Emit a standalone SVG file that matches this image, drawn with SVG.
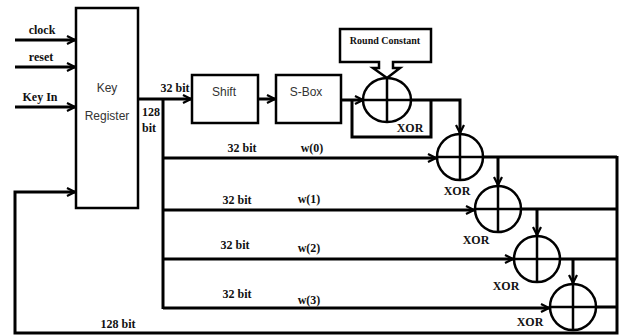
<svg xmlns="http://www.w3.org/2000/svg" width="623" height="335" viewBox="0 0 623 335">
<style>
.ln{fill:none;stroke:#000;stroke-width:3;stroke-linejoin:miter}
.bx{fill:#fff;stroke:#000;stroke-width:2.5}
.xc{fill:#fff;stroke:#000;stroke-width:2.5}
.xl{fill:none;stroke:#000;stroke-width:2.5}
.lb{font-family:"Liberation Serif",serif;font-weight:bold;font-size:12px;fill:#111}
.sm{font-family:"Liberation Serif",serif;font-weight:bold;font-size:10px;fill:#111}
.sn{font-family:"Liberation Sans",sans-serif;font-size:12px;fill:#333}
</style>
<defs>
<marker id="ah" viewBox="0 0 10 10" refX="9" refY="5" markerWidth="10" markerHeight="10" markerUnits="userSpaceOnUse" orient="auto">
<path d="M1,1 L9,5 L1,9" fill="none" stroke="#000" stroke-width="2.2"/>
</marker>
</defs>
<g id="connectors">
<path class="ln" d="M15,40 H75" marker-end="url(#ah)"/>
<path class="ln" d="M15,67 H75" marker-end="url(#ah)"/>
<path class="ln" d="M15,107 H75" marker-end="url(#ah)"/>
<path class="ln" d="M138,99 H191" marker-end="url(#ah)"/>
<path class="ln" d="M258,99 H275" marker-end="url(#ah)"/>
<path class="ln" d="M341,100 H363" marker-end="url(#ah)"/>
<path class="ln" d="M352,100 V137 H431 V100"/>
<path class="ln" d="M410,100 H460 V133" marker-end="url(#ah)"/>
<path class="ln" d="M163,99 V309"/>
<path class="ln" d="M163,158 H436" marker-end="url(#ah)"/>
<path class="ln" d="M163,210 H474" marker-end="url(#ah)"/>
<path class="ln" d="M163,259 H513" marker-end="url(#ah)"/>
<path class="ln" d="M163,308 H549" marker-end="url(#ah)"/>
<path class="ln" d="M483,157 H617"/>
<path class="ln" d="M498,157 V185" marker-end="url(#ah)"/>
<path class="ln" d="M521,209 H617"/>
<path class="ln" d="M537,209 V235" marker-end="url(#ah)"/>
<path class="ln" d="M560,259 H617"/>
<path class="ln" d="M573,259 V283" marker-end="url(#ah)"/>
<path class="ln" d="M596,307 H617"/>
<path class="ln" d="M617,156 V333 H15 V192 H75" marker-end="url(#ah)"/>
</g>
<g id="inputs-labels">
<text class="lb" x="42" y="34" text-anchor="middle">clock</text>
<text class="lb" x="41" y="61" text-anchor="middle">reset</text>
<text class="lb" x="40" y="101" text-anchor="middle">Key In</text>
<text class="lb" x="175" y="92" text-anchor="middle">32 bit</text>
<text class="lb" x="142" y="116">128</text>
<text class="lb" x="142" y="132">bit</text>
<text class="lb" x="242" y="152" text-anchor="middle">32 bit</text>
<text class="lb" x="312" y="152" text-anchor="middle">w(0)</text>
<text class="lb" x="237" y="204" text-anchor="middle">32 bit</text>
<text class="lb" x="309" y="203" text-anchor="middle">w(1)</text>
<text class="lb" x="235" y="249" text-anchor="middle">32 bit</text>
<text class="lb" x="309" y="252" text-anchor="middle">w(2)</text>
<text class="lb" x="237" y="298" text-anchor="middle">32 bit</text>
<text class="lb" x="309" y="304" text-anchor="middle">w(3)</text>
<text class="lb" x="118" y="328" text-anchor="middle">128 bit</text>
</g>
<g id="key-register">
<rect class="bx" x="76" y="8" width="62" height="200"/>
<text class="sn" x="107" y="92" text-anchor="middle">Key</text>
<text class="sn" x="107" y="120" text-anchor="middle" font-size="11.5">Register</text>
</g>
<g id="shift">
<rect class="bx" x="192" y="75" width="66" height="48"/>
<text class="sn" x="224" y="96" text-anchor="middle">Shift</text>
</g>
<g id="sbox">
<rect class="bx" x="276" y="75" width="65" height="48"/>
<text class="sn" x="306" y="96" text-anchor="middle">S-Box</text>
</g>
<g id="round-constant">
<path class="bx" d="M340,29 H431 V62 H393 V68 H400 L387,78 L373,68 H379 V62 H340 Z"/>
<text class="sm" x="385" y="44" text-anchor="middle">Round Constant</text>
</g>
<g id="xor1">
<ellipse class="xc" cx="387" cy="100" rx="24" ry="22"/>
<path class="xl" d="M363,100 H411 M387,78 V122"/>
<text class="lb" x="410" y="132" text-anchor="middle">XOR</text>
</g>
<g id="xor2">
<circle class="xc" cx="460" cy="157" r="23"/>
<path class="xl" d="M437,157 H483 M460,134 V180"/>
<text class="lb" x="457" y="195" text-anchor="middle">XOR</text>
</g>
<g id="xor3">
<circle class="xc" cx="498" cy="209" r="23"/>
<path class="xl" d="M475,209 H521 M498,186 V232"/>
<text class="lb" x="476" y="244" text-anchor="middle">XOR</text>
</g>
<g id="xor4">
<circle class="xc" cx="537" cy="259" r="23"/>
<path class="xl" d="M514,259 H560 M537,236 V282"/>
<text class="lb" x="506" y="290" text-anchor="middle">XOR</text>
</g>
<g id="xor5">
<circle class="xc" cx="573" cy="307" r="23"/>
<path class="xl" d="M550,307 H596 M573,284 V330"/>
<text class="lb" x="530" y="326" text-anchor="middle">XOR</text>
</g>
</svg>
